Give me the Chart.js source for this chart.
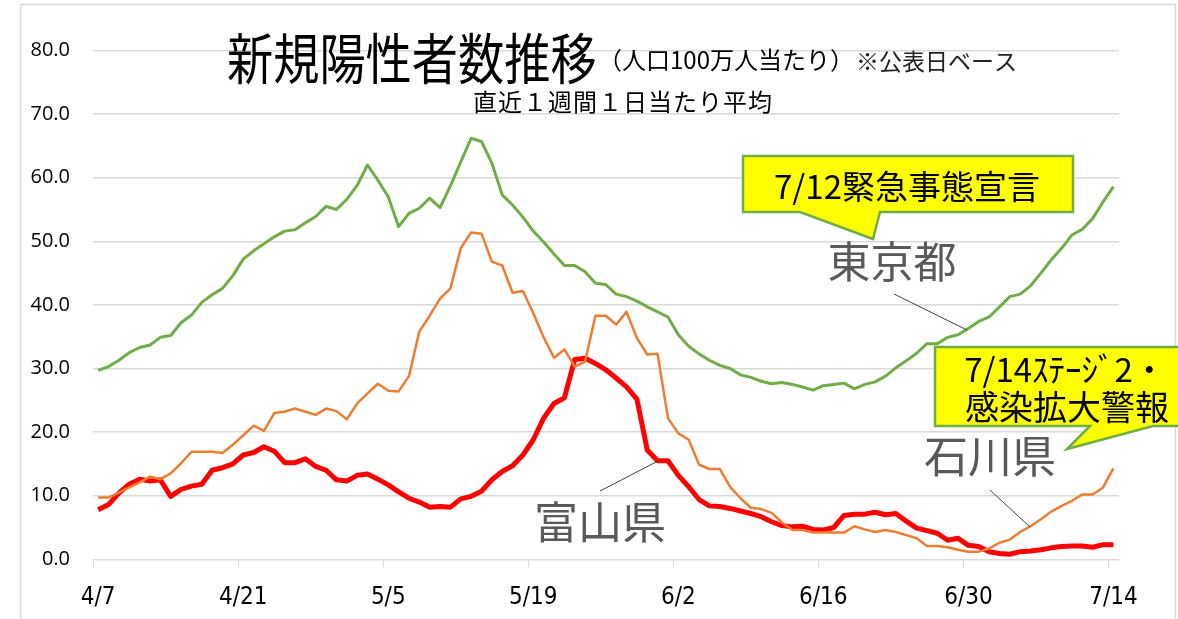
<!DOCTYPE html>
<html>
<head>
<meta charset="utf-8">
<script src="https://cdn.jsdelivr.net/npm/chart.js@4.4.1/dist/chart.umd.min.js"></script>
<style>
html,body{margin:0;padding:0;background:#fff;}
#wrap{position:relative;width:1178px;height:619px;overflow:hidden;}
</style>
</head>
<body>
<div id="wrap"><canvas id="c" width="1178" height="619"></canvas></div>
<script>
const dates = [
'4/7','4/8','4/9','4/10','4/11','4/12','4/13','4/14','4/15','4/16','4/17','4/18','4/19','4/20','4/21','4/22','4/23','4/24','4/25','4/26','4/27','4/28','4/29','4/30',
'5/1','5/2','5/3','5/4','5/5','5/6','5/7','5/8','5/9','5/10','5/11','5/12','5/13','5/14','5/15','5/16','5/17','5/18','5/19','5/20','5/21','5/22','5/23','5/24','5/25','5/26','5/27','5/28','5/29','5/30','5/31',
'6/1','6/2','6/3','6/4','6/5','6/6','6/7','6/8','6/9','6/10','6/11','6/12','6/13','6/14','6/15','6/16','6/17','6/18','6/19','6/20','6/21','6/22','6/23','6/24','6/25','6/26','6/27','6/28','6/29','6/30',
'7/1','7/2','7/3','7/4','7/5','7/6','7/7','7/8','7/9','7/10','7/11','7/12','7/13','7/14'
];
const xTickLabels = ['4/7','4/21','5/5','5/19','6/2','6/16','6/30','7/14'];
const yTickValues = [0,10,20,30,40,50,60,70,80];

const tokyo = [
29.7,30.3,31.3,32.5,33.3,33.7,34.9,35.2,37.2,38.4,
40.4,41.6,42.6,44.6,47.2,48.5,49.6,50.7,51.6,51.8,
52.9,53.9,55.5,55.0,56.6,58.8,62.0,59.6,57.0,52.3,
54.4,55.2,56.8,55.3,58.7,62.5,66.2,65.7,62.3,57.3,
55.7,53.8,51.6,49.9,48.0,46.2,46.2,45.2,43.4,43.2,
41.7,41.3,40.6,39.7,38.9,38.1,35.3,33.5,32.3,31.3,
30.5,30.0,29.0,28.6,28.0,27.6,27.8,27.5,27.1,26.6,
27.3,27.5,27.7,26.8,27.5,27.9,28.8,30.1,31.2,32.4,
33.9,33.9,34.9,35.3,36.3,37.4,38.1,39.7,41.3,41.7,
43.0,45.0,47.1,48.9,51.0,51.9,53.6,56.2,58.6
];
const ishikawa = [
9.7,9.7,10.5,11.3,12.1,13.0,12.6,13.5,15.1,16.9,
16.9,16.9,16.7,18.0,19.5,21.0,20.2,23.0,23.2,23.7,
23.2,22.7,23.7,23.3,22.0,24.5,26.1,27.6,26.5,26.4,
28.8,35.8,38.3,41.0,42.6,48.9,51.4,51.2,46.8,46.2,
41.9,42.2,38.7,34.9,31.7,33.0,30.3,31.1,38.3,38.3,
36.9,38.9,34.8,32.2,32.3,22.2,19.8,18.8,14.9,14.2,
14.2,11.4,9.6,8.1,7.9,7.3,5.8,4.6,4.6,4.2,
4.2,4.2,4.2,5.2,4.7,4.3,4.6,4.3,3.8,3.3,
2.1,2.1,1.9,1.5,1.2,1.2,1.7,2.6,3.1,4.3,
5.2,6.3,7.5,8.4,9.2,10.2,10.2,11.3,14.3
];
const toyama = [
7.8,8.6,10.4,11.8,12.6,12.3,12.5,9.9,11.0,11.5,
11.8,14.0,14.4,15.0,16.4,16.8,17.7,17.0,15.2,15.2,
15.8,14.6,14.0,12.5,12.3,13.2,13.4,12.6,11.7,10.6,
9.6,9.0,8.2,8.3,8.2,9.5,9.9,10.7,12.5,13.8,
14.7,16.4,18.8,22.2,24.5,25.4,31.4,31.6,30.8,29.8,
28.5,27.1,25.2,17.2,15.5,15.5,13.2,11.4,9.4,8.4,
8.3,8.0,7.6,7.2,6.7,5.9,5.3,5.1,5.2,4.7,
4.6,5.0,6.9,7.1,7.1,7.4,7.0,7.2,6.0,4.9,
4.5,4.1,3.0,3.3,2.2,2.0,1.2,0.9,0.8,1.2,
1.3,1.5,1.8,2.0,2.1,2.1,1.9,2.3,2.3
];

const CJK = "'Noto Sans CJK JP', 'Noto Sans CJK SC', sans-serif";

function txt(ctx, s, x, y, size, color, align, sx, weight, spacing) {
  ctx.save();
  ctx.font = (weight || 'normal') + ' ' + size + 'px ' + CJK;
  ctx.fillStyle = color;
  ctx.textAlign = align || 'center';
  ctx.textBaseline = 'alphabetic';
  if (spacing) ctx.letterSpacing = spacing + 'px';
  ctx.translate(x, y + 0.38 * size);
  ctx.scale(sx || 1, 1);
  ctx.fillText(s, 0, 0);
  ctx.restore();
}
function line(ctx, x1, y1, x2, y2) {
  ctx.save();
  ctx.strokeStyle = '#404040';
  ctx.lineWidth = 1;
  ctx.beginPath(); ctx.moveTo(x1, y1); ctx.lineTo(x2, y2); ctx.stroke();
  ctx.restore();
}
function poly(ctx, pts) {
  ctx.save();
  ctx.beginPath();
  ctx.moveTo(pts[0][0], pts[0][1]);
  for (let i = 1; i < pts.length; i++) ctx.lineTo(pts[i][0], pts[i][1]);
  ctx.closePath();
  ctx.fillStyle = '#FFFF00';
  ctx.fill();
  ctx.strokeStyle = '#70AD47';
  ctx.lineWidth = 2.5;
  ctx.lineJoin = 'miter';
  ctx.stroke();
  ctx.restore();
}

const decor = {
  id: 'decor',
  beforeDraw(chart) {
    const ctx = chart.ctx;
    ctx.save();
    ctx.fillStyle = '#fff';
    ctx.fillRect(0, 0, chart.width, chart.height);
    ctx.strokeStyle = '#D9D9D9';
    ctx.lineWidth = 1.5;
    ctx.strokeRect(20.5, 4.5, 1155, 700);
    ctx.restore();
  },
  afterDraw(chart) {
    const ctx = chart.ctx;
    // titles
    txt(ctx, '新規陽性者数推移', 227, 58, 55, '#000', 'left', 0.84);
    txt(ctx, '（人口100万人当たり）', 598, 60, 24, '#000', 'left');
    txt(ctx, '※公表日ベース', 856, 61, 23, '#222', 'left');
    txt(ctx, '直近１週間１日当たり平均', 623, 102, 24, '#000', 'center', 1, 'normal', 1);
    // labels
    txt(ctx, '東京都', 892, 262, 43, '#595959');
    line(ctx, 894, 294, 967, 330);
    txt(ctx, '富山県', 600, 522, 44, '#595959');
    line(ctx, 600, 491, 658, 461);
    txt(ctx, '石川県', 990, 456, 44, '#595959');
    line(ctx, 990, 490, 1030, 527);
    // callouts
    poly(ctx, [[743,156],[1073,156],[1073,212],[880,212],[873,239],[800,212],[743,212]]);
    txt(ctx, '7/12緊急事態宣言', 907, 186, 33, '#000');
    poly(ctx, [[935,347],[1190,347],[1190,426],[1153,426],[1067,449],[1090,426],[935,426]]);
    txt(ctx, '7/14ｽﾃｰｼﾞ2・', 1065, 369, 33, '#000');
    txt(ctx, '感染拡大警報', 1067, 407, 34, '#000');
  }
};

new Chart(document.getElementById('c'), {
  type: 'line',
  data: {
    labels: dates,
    datasets: [
      { label: '東京都', data: tokyo, borderColor: '#70AD47', borderWidth: 3, pointRadius: 0, tension: 0, order: 1, borderJoinStyle: 'round' },
      { label: '石川県', data: ishikawa, borderColor: '#ED7D31', borderWidth: 2.5, pointRadius: 0, tension: 0, order: 2, borderJoinStyle: 'round' },
      { label: '富山県', data: toyama, borderColor: '#FF0000', borderWidth: 5, pointRadius: 0, tension: 0, order: 3, borderJoinStyle: 'round' }
    ]
  },
  options: {
    responsive: false,
    animation: false,
    devicePixelRatio: 1,
    layout: { padding: { left: 0, right: 59.4, top: 50.5, bottom: 0 } },
    plugins: { legend: { display: false }, tooltip: { enabled: false }, title: { display: false } },
    scales: {
      x: {
        type: 'category',
        offset: true,
        afterFit(s) { s.height = 59.7; },
        grid: {
          offset: true,
          drawOnChartArea: false,
          drawTicks: true,
          tickLength: 8,
          color: (c) => (c.index % 14 === 0 ? '#D9D9D9' : 'rgba(0,0,0,0)')
        },
        border: { display: true, color: '#D9D9D9', width: 1 },
        ticks: {
          autoSkip: false,
          maxRotation: 0,
          minRotation: 0,
          padding: 16,
          color: '#000',
          font: { family: "'Liberation Sans Narrow', 'DejaVu Sans Condensed', sans-serif", size: 24 },
          callback(v, i) { const l = dates[i]; return xTickLabels.includes(l) ? l : ''; }
        }
      },
      y: {
        min: 0,
        max: 80,
        afterFit(s) { s.width = 93; },
        afterBuildTicks(s) { s.ticks = yTickValues.map(v => ({ value: v })); },
        grid: { color: '#D9D9D9', drawTicks: false, lineWidth: 1.5 },
        border: { display: false },
        ticks: {
          padding: 23,
          color: '#000',
          font: { family: "'Open Sans', sans-serif", size: 20 },
          callback(v) { return Number(v).toFixed(1); }
        }
      }
    }
  },
  plugins: [decor]
});
</script>
</body>
</html>
